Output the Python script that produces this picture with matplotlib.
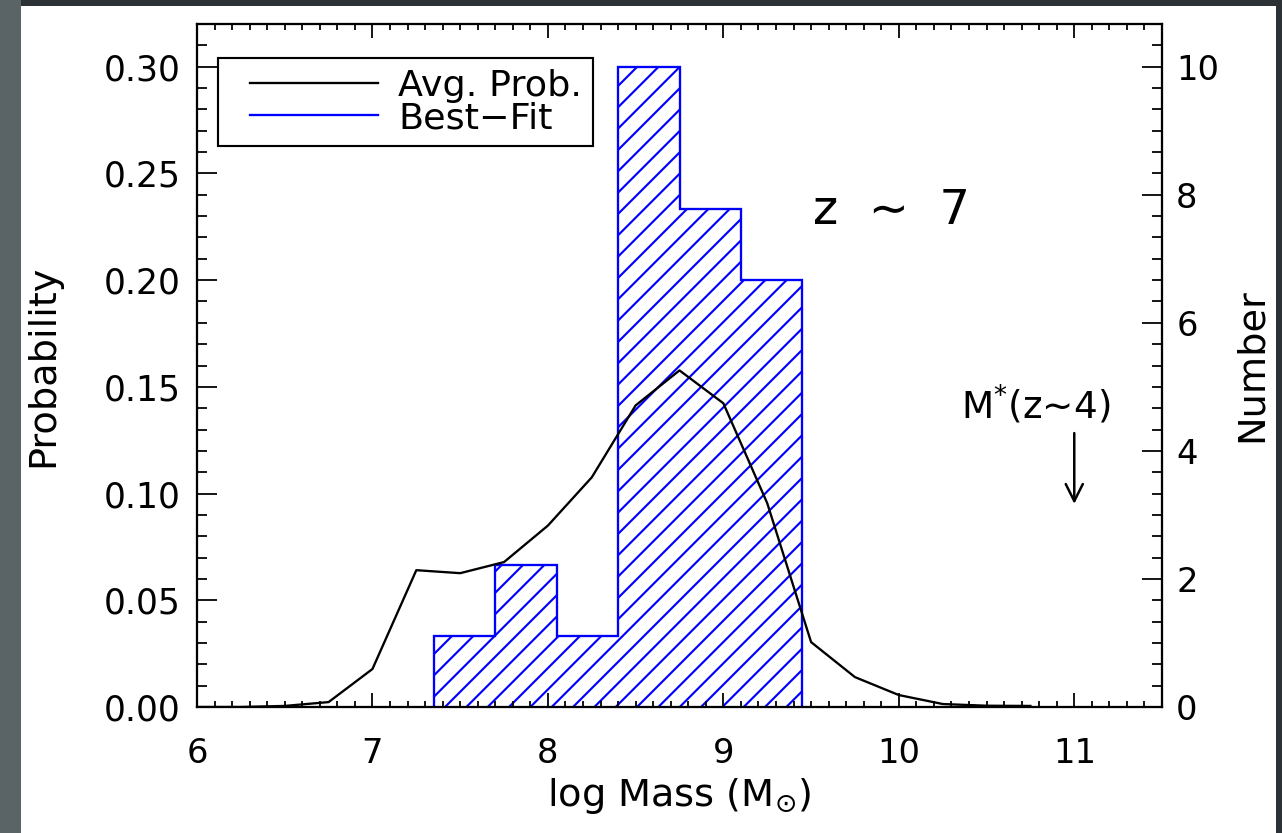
import matplotlib
matplotlib.use("Agg")
import matplotlib.pyplot as plt
from matplotlib.patches import Rectangle
from matplotlib.lines import Line2D
from matplotlib.legend_handler import HandlerBase
from matplotlib.ticker import MultipleLocator, FormatStrFormatter

# average probability curve
masa_prob = [6.0, 6.25, 6.5, 6.75, 7.0, 7.25, 7.5, 7.75, 8.0, 8.25, 8.5,
             8.75, 9.0, 9.25, 9.5, 9.75, 10.0, 10.25, 10.5, 10.75]
prob_media = [0.0, 0.0, 0.0005, 0.0023, 0.0178, 0.0641, 0.0627, 0.0679, 0.085,
              0.1076, 0.1413, 0.1577, 0.1423, 0.0955, 0.0304, 0.014, 0.0056,
              0.0014, 0.0006, 0.0005]

# best-fit histogram
bordes = [7.35, 7.70, 8.05, 8.40, 8.75, 9.10, 9.45]
prob_mejor = [0.0333, 0.0667, 0.0333, 0.30, 0.2333, 0.20]

xticks = [6, 7, 8, 9, 10, 11]
yticks_izq = [0.0, 0.05, 0.10, 0.15, 0.20, 0.25, 0.30]
yticks_der = [0, 2, 4, 6, 8, 10]

plt.rcParams['hatch.linewidth'] = 1.2
plt.rcParams['font.family'] = ['DejaVu Sans']


class LineaCorta(HandlerBase):
    # line that starts a bit to the right inside the handle box
    def create_artists(self, legend, orig_handle, xdescent, ydescent,
                       width, height, fontsize, trans):
        y = height / 2 - ydescent
        ln = Line2D([-xdescent + 0.14 * width, -xdescent + width], [y, y],
                    color=orig_handle.get_color(),
                    linewidth=orig_handle.get_linewidth(), transform=trans)
        return [ln]


W, H, DPI = 1282, 833, 128
fig = plt.figure(figsize=(W / DPI, H / DPI), dpi=DPI, facecolor='#2b3134')
fig.patches.append(Rectangle((0, 0), 21 / W, 1, transform=fig.transFigure,
                             facecolor='#5a6366', edgecolor='none', zorder=-2))
fig.patches.append(Rectangle((21 / W, 0), 1255 / W, 827 / H, transform=fig.transFigure,
                             facecolor='white', edgecolor='none', zorder=-1))

ax = fig.add_axes([197 / W, 1 - 707 / H, (1162 - 197) / W, (707 - 24) / H])
ax.patch.set_alpha(0)

ax.stairs(prob_mejor, bordes, baseline=0, fill=True, facecolor='none',
          edgecolor='blue', hatch='//', linewidth=1.3)
ax.plot(masa_prob, prob_media, color='black', linewidth=1.3)

ax.set_xlim(6, 11.5)
ax.set_ylim(0, 0.32)
ax.set_xticks(xticks)
ax.set_yticks(yticks_izq)
ax.xaxis.set_minor_locator(MultipleLocator(0.1))
ax.yaxis.set_minor_locator(MultipleLocator(0.01))
ax.yaxis.set_major_formatter(FormatStrFormatter('%.2f'))

for s in ax.spines.values():
    s.set_linewidth(1.2)

ax.tick_params(axis='x', which='both', direction='in', top=True, width=1.0,
               labelsize=19, pad=17)
ax.tick_params(axis='x', which='major', length=8)
ax.tick_params(axis='x', which='minor', length=3.5)
ax.tick_params(axis='y', which='both', direction='in', right=False, width=1.0,
               labelsize=19.5, pad=9)
ax.tick_params(axis='y', which='major', length=11)
ax.tick_params(axis='y', which='minor', length=5.5)

ax2 = ax.twinx()
ax2.set_ylim(0, 0.32 / 0.03)
ax2.set_yticks(yticks_der)
ax2.yaxis.set_minor_locator(MultipleLocator(1 / 3))
ax2.tick_params(axis='y', which='both', direction='in', width=1.0,
                labelsize=19, pad=8)
ax2.tick_params(axis='y', which='major', length=11)
ax2.tick_params(axis='y', which='minor', length=5.5)
for s in ax2.spines.values():
    s.set_linewidth(1.2)

ax.set_xlabel(r'log Mass (M$_{\odot}$)', fontsize=21.5, labelpad=3)
ax.set_ylabel('Probability', fontsize=21.5, labelpad=24)
ax2.set_ylabel('Number', fontsize=21.5, labelpad=8)

ax.text(9.96, 0.2326, 'z  \u223c  7', fontsize=27, ha='center', va='center')
ax.text(10.78, 0.1413, 'M$^{*}$(z\u223c4)', fontsize=21, ha='center', va='center')
ax.annotate('', xy=(11.0, 0.0935), xytext=(11.0, 0.1300),
            arrowprops=dict(arrowstyle='->', color='black', lw=1.4,
                            mutation_scale=24))

handles = [Line2D([], [], color='black', linewidth=1.3),
           Line2D([], [], color='blue', linewidth=1.3)]
leg = ax.legend(handles, ['Avg. Prob.', 'Best\u2212Fit'], loc='upper left',
                bbox_to_anchor=((218 - 197) / 965, (707 - 58) / 683),
                fontsize=20.5, frameon=True, fancybox=False, framealpha=1,
                handlelength=4.1, handletextpad=0.55, labelspacing=-0.05,
                borderpad=0.3, borderaxespad=0,
                handler_map={Line2D: LineaCorta()})
leg.get_frame().set_edgecolor('black')
leg.get_frame().set_linewidth(1.2)

fig.savefig('out.png', dpi=DPI, facecolor=fig.get_facecolor())
